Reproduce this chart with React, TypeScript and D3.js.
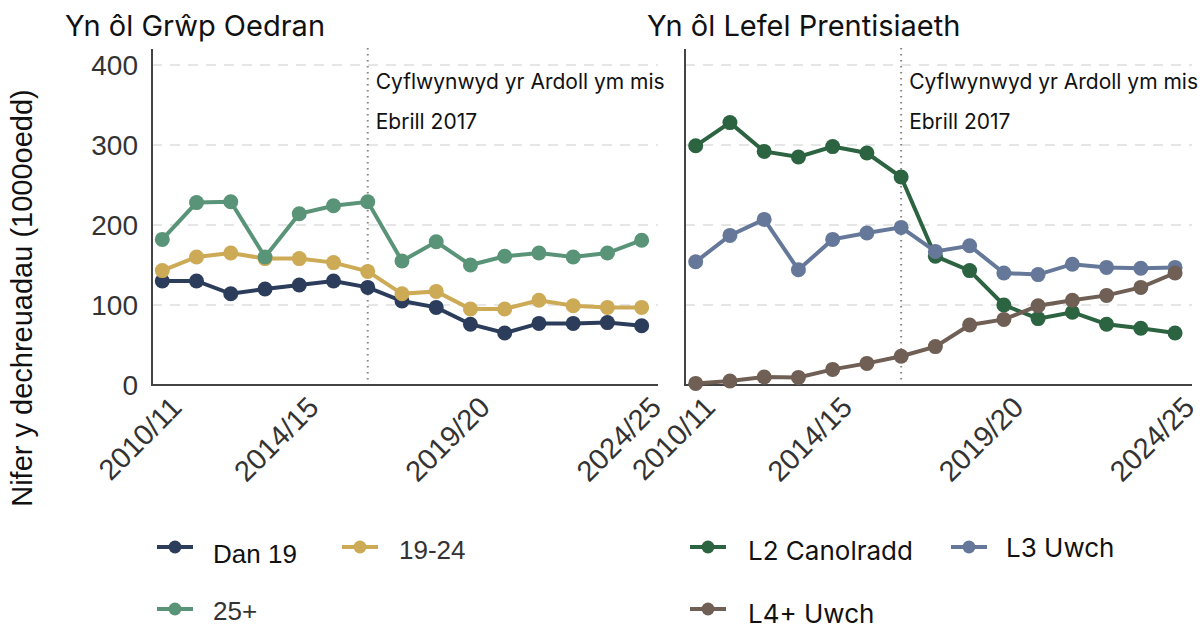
import React from "react";
import * as d3 from "d3";

const years = [
  "2010/11", "2011/12", "2012/13", "2013/14", "2014/15", "2015/16", "2016/17", "2017/18",
  "2018/19", "2019/20", "2020/21", "2021/22", "2022/23", "2023/24", "2024/25",
];
const tickLabels = ["2010/11", "2014/15", "2019/20", "2024/25"];
const levyYear = "2016/17";
const yTicks = [0, 100, 200, 300, 400];

const dan19 = [130, 130, 114, 120, 125, 130, 122, 105, 97, 76, 65, 77, 77, 78, 74];
const age1924 = [143, 160, 165, 158, 158, 153, 142, 114, 117, 95, 95, 106, 99, 97, 97];
const age25 = [182, 228, 229, 160, 214, 224, 229, 155, 179, 150, 161, 165, 160, 165, 181];

const l2 = [299, 328, 292, 285, 298, 290, 260, 161, 143, 100, 83, 91, 76, 71, 65];
const l3 = [154, 187, 207, 144, 182, 190, 197, 167, 174, 140, 138, 151, 147, 146, 147];
const l4 = [2, 5, 10, 9.5, 19.5, 27, 36, 48, 75, 82, 99, 106, 112, 122, 140];

const leftSeries = [
  { name: "Dan 19", values: dan19, color: "#2C3D5B" },
  { name: "19-24", values: age1924, color: "#CDAA55" },
  { name: "25+", values: age25, color: "#5A9478" },
];
const rightSeries = [
  { name: "L2 Canolradd", values: l2, color: "#2C6340" },
  { name: "L3 Uwch", values: l3, color: "#66789A" },
  { name: "L4+ Uwch", values: l4, color: "#705F55" },
];

const ARIAL = "'Liberation Sans', Arial, sans-serif";
const APTOS = "Inter, 'Noto Sans', sans-serif";

const y = d3.scaleLinear().domain([0, 400]).range([385, 65]);

function Panel({ series, xStart, axisLeft, axisRight, title, titleX, showY }: any) {
  const x = d3
    .scalePoint<string>()
    .domain(years)
    .range([xStart, xStart + 34.24 * (years.length - 1)]);
  const line = d3
    .line<number>()
    .x((_, i) => x(years[i]) as number)
    .y((d) => y(d));
  const lx = x(levyYear) as number;
  return (
    <g>
      <text x={titleX} y={36} fontFamily={APTOS} fontSize={29} fill="#111">
        {title}
      </text>
      {yTicks
        .filter((t) => t > 0)
        .map((t) => (
          <line
            key={t}
            x1={axisLeft}
            x2={axisRight}
            y1={y(t)}
            y2={y(t)}
            stroke="#DEDEDE"
            strokeWidth={1.5}
            strokeDasharray="10 8"
          />
        ))}
      {showY &&
        yTicks.map((t) => (
          <text
            key={t}
            x={138}
            y={y(t)}
            dy="0.36em"
            textAnchor="end"
            fontFamily={ARIAL}
            fontSize={28}
            fill="#333"
          >
            {t}
          </text>
        ))}
      <line x1={lx} x2={lx} y1={48} y2={385} stroke="#8F8580" strokeWidth={2} strokeDasharray="1.5 4.5" />
      <text x={lx + 8} y={89} fontFamily={APTOS} fontSize={21} fill="#111">
        Cyflwynwyd yr Ardoll ym mis
      </text>
      <text x={lx + 8} y={129} fontFamily={APTOS} fontSize={21} fill="#111">
        Ebrill 2017
      </text>
      <line x1={axisLeft} x2={axisLeft} y1={49} y2={386} stroke="#444" strokeWidth={2} />
      <line x1={axisLeft} x2={axisRight} y1={385} y2={385} stroke="#444" strokeWidth={2} />
      {tickLabels.map((t) => (
        <text
          key={t}
          transform={`translate(${(x(t) as number) + 14},${402}) rotate(-45)`}
          textAnchor="end"
          dy="0.35em"
          fontFamily={ARIAL}
          fontSize={29}
          fill="#333"
        >
          {t}
        </text>
      ))}
      {series.map((s: any) => (
        <g key={s.name}>
          <path d={line(s.values) as string} fill="none" stroke={s.color} strokeWidth={4} />
          {s.values.map((v: number, i: number) => (
            <circle key={i} cx={x(years[i])} cy={y(v)} r={7.5} fill={s.color} />
          ))}
        </g>
      ))}
    </g>
  );
}

function LegendItem({ x, y: ly, color, label, textX, baseline, font, size, fill }: any) {
  return (
    <g>
      <line x1={x - 18} x2={x + 18} y1={ly} y2={ly} stroke={color} strokeWidth={4} />
      <circle cx={x} cy={ly} r={6.5} fill={color} />
      <text x={textX} y={baseline} fontFamily={font} fontSize={size} fill={fill}>
        {label}
      </text>
    </g>
  );
}

export default function App() {
  return (
    <svg
      width={1204}
      height={628}
      style={{ position: "absolute", left: 0, top: 0, background: "#fff" }}
    >
      <rect width={1204} height={628} fill="#fff" />
      <text
        transform="translate(32,298) rotate(-90)"
        textAnchor="middle"
        fontFamily={ARIAL}
        fontSize={29}
        fill="#111"
      >
        Nifer y dechreuadau (1000oedd)
      </text>
      <Panel
        series={leftSeries}
        xStart={162.3}
        axisLeft={152}
        axisRight={658}
        title="Yn ôl Grŵp Oedran"
        titleX={65}
        showY={true}
      />
      <Panel
        series={rightSeries}
        xStart={695.7}
        axisLeft={685}
        axisRight={1192}
        title="Yn ôl Lefel Prentisiaeth"
        titleX={647}
        showY={false}
      />
      <LegendItem x={175} y={547} color={leftSeries[0].color} label="Dan 19" textX={213} baseline={563} font={ARIAL} size={26} fill="#111" />
      <LegendItem x={360} y={547} color={leftSeries[1].color} label="19-24" textX={399} baseline={559} font={ARIAL} size={26} fill="#333" />
      <LegendItem x={175} y={609} color={leftSeries[2].color} label="25+" textX={213} baseline={620} font={ARIAL} size={26} fill="#333" />
      <LegendItem x={708} y={547} color={rightSeries[0].color} label="L2 Canolradd" textX={748} baseline={560} font={APTOS} size={26} fill="#111" />
      <LegendItem x={969} y={547} color={rightSeries[1].color} label="L3 Uwch" textX={1006} baseline={557} font={APTOS} size={26} fill="#111" />
      <LegendItem x={708} y={609} color={rightSeries[2].color} label="L4+ Uwch" textX={748} baseline={623} font={APTOS} size={26} fill="#111" />
    </svg>
  );
}
